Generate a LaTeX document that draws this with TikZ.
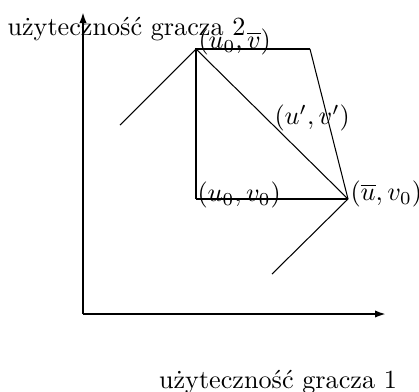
\documentclass[tikz,border=0pt]{standalone}
\usepackage{amsmath,amssymb}
\usepackage{tikz}
\usetikzlibrary{arrows.meta}

\begin{document}
\begin{tikzpicture}[x=0.382pt,y=0.382pt,
    axis/.style={-{Latex[length=4.2pt,width=2.8pt]},line width=0.75pt},
    edge/.style={line width=0.75pt},
    lab/.style={inner sep=0pt,anchor=west}]
        \useasboundingbox (0,0) rectangle (419,391);

        \coordinate (O) at (83,77);
        \coordinate (ytop) at (83,379);
        \coordinate (xend) at (386,77);
        \coordinate (A) at (196,192);
        \coordinate (B) at (196,342);
        \coordinate (C) at (310,342);
        \coordinate (D) at (348,192);
        \coordinate (E) at (120,266);
        \coordinate (F) at (272,117);

        \draw[axis] (O) -- (ytop);
        \draw[axis] (O) -- (xend);

        \draw[edge] (A) -- (B) -- (C);
        \draw[edge] (A) -- (D);
        \draw (C) -- (D);
        \draw (B) -- (D);
        \draw (E) -- (B);
        \draw (D) -- (F);

        \node[lab] (ylab) at (7,362) {użyteczność gracza 2};
        \node (xlab) at (278,9) {użyteczność gracza 1};
        \node[lab] (lB) at (198,349) {$(u_0,\overline{v})$};
        \node[lab] (lP) at (274,273) {$(u',v')$};
        \node[lab] (lA) at (197,196) {$(u_0,v_0)$};
        \node[lab] (lD) at (350,197) {$(\overline{u},v_0)$};
      \end{tikzpicture}
\end{document}
